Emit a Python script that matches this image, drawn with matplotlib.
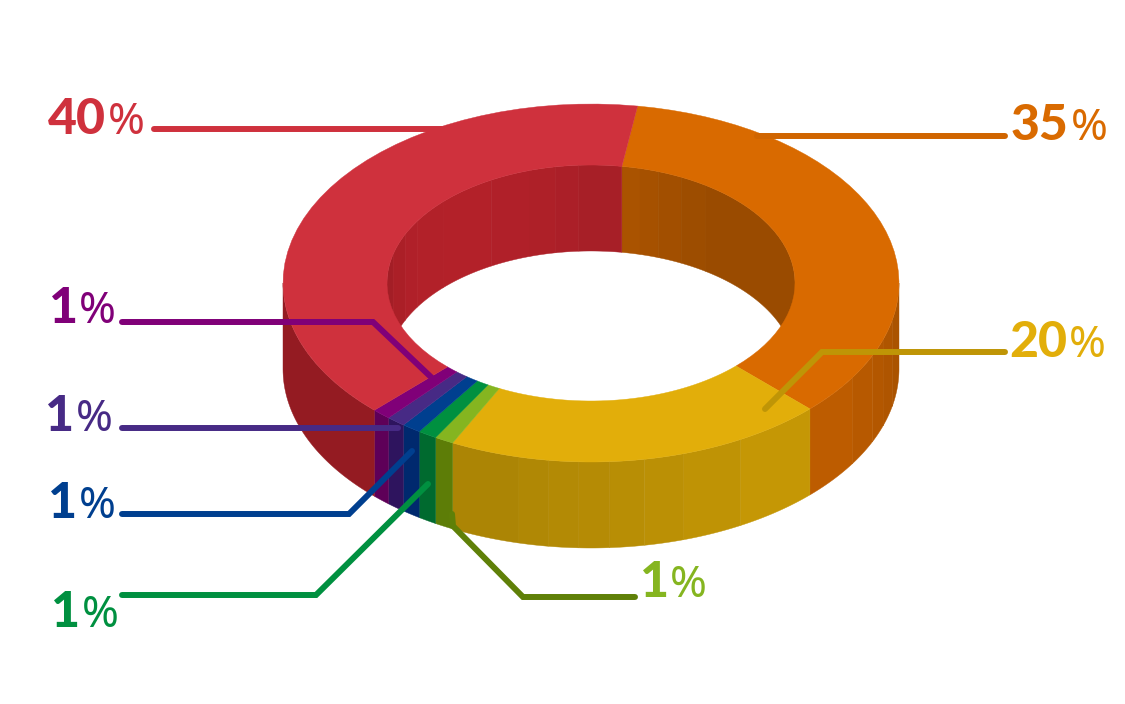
import numpy as np
import matplotlib
matplotlib.use("Agg")
import matplotlib.pyplot as plt
from matplotlib.patches import Polygon

# ---- data ----
values = [35, 20, 1, 1, 1, 1, 1, 40]
colors = ['#D96A00', '#E2AE0A', '#85B520', '#009040', '#003F8F', '#472A85', '#800078', '#CF313D']
wall_colors = ['#D96A00', '#E2AE06', '#7FAA0A', '#009040', '#003895', '#3F1B80', '#800078', '#D02630']
digits = ['35', '20', '1', '1', '1', '1', '1', '40']
digit_xy = [(1011, 140), (1009, 357), (640, 597), (51, 627), (48, 518), (45, 431), (49, 323), (48, 134)]
pct_x = [1071, 1069, 670, 82, 79, 76, 79, 107.5]
leaders = [
    [(1005, 136), (757, 136)],
    [(1005, 352), (822, 352), (765, 409)],
    [(635, 597), (523, 597), (453, 526), (452, 514)],
    [(122, 595), (316, 595), (428, 484)],
    [(122, 514), (349, 514), (412, 451)],
    [(122, 428), (398, 428)],
    [(122, 322), (373, 322), (432, 378)],
    [(154, 129), (442, 129)],
]
leader_colors = ['#D06500', '#BF9506', '#5F8008', '#009040', '#003F8F', '#472A85', '#800078', '#CF313D']

# ---- geometry (pixel space) ----
CX, CY = 591, 283
RXO, RYO = 308, 179
RXI, RYI = 204, 118
DEPTH = 86
START = 8.7

outer_steps = [90, 102, 108.5, 114, 122, 134.7, 151, 162.6, 170, 176.5, 182.4, 188, 193.7,
               206.7, 224.7, 270]
inner_steps = [-90, -76, -65.7, -58.5, -46.5, -29.3, -17.4, -9.9, -3.4, 8.7,
               13.9, 19.2, 26.2, 34.3, 90]
outer_shade = ([90, 100, 120, 135, 207, 225, 270], [0.77, 0.79, 0.85, 0.885, 0.75, 0.72, 0.70])
inner_shade = ([-90, -76, -60, -40, -10, 9, 35, 90], [0.76, 0.81, 0.85, 0.865, 0.83, 0.79, 0.71, 0.71])


def pt(ang, rx, ry, dy=0):
    a = np.radians(ang)
    return CX + rx * np.sin(a), CY - ry * np.cos(a) + dy


def arc(a0, a1, rx, ry, dy=0, n=40):
    t = np.linspace(a0, a1, n)
    x, y = pt(t, rx, ry, dy)
    return np.column_stack([x, y])


def shade(col, f):
    r = np.array(matplotlib.colors.to_rgb(col)) * f
    return tuple(np.clip(r, 0, 1))


fig = plt.figure(figsize=(11.25, 7.04), dpi=100, facecolor='white')
ax = fig.add_axes([0, 0, 1, 1])
ax.set_xlim(0, 1125)
ax.set_ylim(704, 0)
ax.axis('off')

sweeps = np.array(values) / sum(values) * 360
starts = START + np.concatenate([[0], np.cumsum(sweeps)[:-1]])


def walls(steps, table, rx, ry, z):
    for wrap in (0, 360, -360):
        for s0, s1 in zip(steps[:-1], steps[1:]):
            for st, sw, col in zip(starts, sweeps, wall_colors):
                lo = max(s0, st + wrap)
                hi = min(s1, st + sw + wrap)
                if hi - lo <= 1e-6:
                    continue
                f = np.interp((s0 + s1) / 2, *table)
                top = arc(lo, hi, rx, ry)
                bot = arc(hi, lo, rx, ry, DEPTH)
                c = shade(col, f)
                ax.add_patch(Polygon(np.vstack([top, bot]), closed=True, fc=c, ec=c, lw=0.3, zorder=z))


walls(outer_steps, outer_shade, RXO, RYO, 1)
walls(inner_steps, inner_shade, RXI, RYI, 1)

# top face of the ring
for st, sw, col in zip(starts, sweeps, colors):
    poly = np.vstack([arc(st, st + sw, RXO, RYO), arc(st + sw, st, RXI, RYI)])
    ax.add_patch(Polygon(poly, closed=True, fc=col, ec=col, lw=0.3, zorder=2))

# leader lines and labels
for path, lc in zip(leaders, leader_colors):
    xs, ys = zip(*path)
    ax.plot(xs, ys, color=lc, lw=4.3, solid_capstyle='round', solid_joinstyle='miter', zorder=3)

for d, (x, y), px, col in zip(digits, digit_xy, pct_x, colors):
    ax.text(x, y, d, color=col, family='Lato', fontweight='black', fontsize=36,
            ha='left', va='baseline', zorder=4)
    ax.text(px, y, '%', color=col, family='Noto Sans', fontweight='normal', fontsize=32,
            ha='left', va='baseline', zorder=4)

fig.savefig('out.png', dpi=100, facecolor='white')
